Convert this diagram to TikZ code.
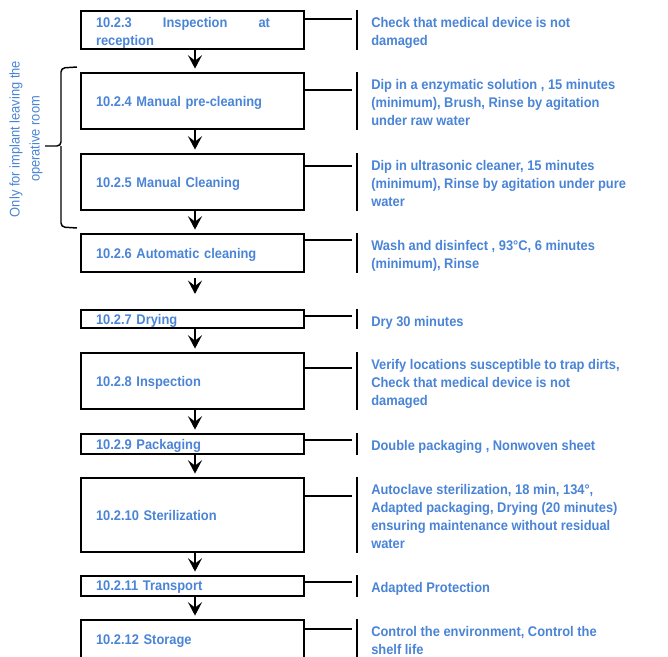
\documentclass[tikz,border=0pt]{standalone}
\usepackage{fontspec}
\setmainfont{Liberation Sans}[FakeStretch=0.92]
\usetikzlibrary{arrows.meta}
\definecolor{stepblue}{RGB}{74,132,214}
\begin{document}
\begin{tikzpicture}[x=0.75pt, y=-0.75pt, every node/.style={text=stepblue, font=\fontsize{10.5}{13.5}\selectfont\bfseries}]
        \tikzstyle{stepbox} = [draw=black, line width=1.6pt, rectangle, text width=144.75pt, inner xsep=11.25pt, inner ysep=0pt, text depth=0pt, align=left]
        \tikzstyle{desc} = [anchor=north west, inner sep=0pt, align=left]
        \tikzstyle{flow} = [-{Stealth[length=10pt, width=10.5pt, inset=4pt]}, line width=1.5pt, shorten >=2.5pt]
        \tikzstyle{link} = [line width=1.2pt]
        \tikzstyle{bar} = [line width=1.5pt]
        \useasboundingbox (0,0) rectangle (668,657);
        % process steps
        \node[stepbox, minimum height=28.5pt, text depth=11.25pt] (insp) at (192.5,30) {\hbox to 130.5pt{10.2.3\hfill Inspection\hfill at}\\reception};
        \node[stepbox, minimum height=42pt] (prec) at (192.5,101) {10.2.4 Manual pre-cleaning};
        \node[stepbox, minimum height=42pt] (manc) at (192.5,182) {10.2.5 Manual Cleaning};
        \node[stepbox, minimum height=28.5pt] (auto) at (192.5,253) {10.2.6 Automatic cleaning};
        \node[stepbox, minimum height=13.5pt] (dry) at (192.5,319) {10.2.7 Drying};
        \node[stepbox, minimum height=42pt] (chk) at (192.5,381) {10.2.8 Inspection};
        \node[stepbox, minimum height=15pt] (pack) at (192.5,444) {10.2.9 Packaging};
        \node[stepbox, minimum height=55.5pt] (ster) at (192.5,515) {10.2.10 Sterilization};
        \node[stepbox, minimum height=15pt] (trans) at (192.5,586) {10.2.11 Transport};
        \node[stepbox, minimum height=30pt] (stor) at (192.5,640) {10.2.12 Storage};
        % descriptions
        \node[desc] (dinsp) at (371,17.5) {Check that medical device is not\\damaged};
        \node[desc] (dprec) at (371,79.5) {Dip in a enzymatic solution , 15 minutes\\(minimum), Brush, Rinse by agitation\\under raw water};
        \node[desc] (dmanc) at (371,160.5) {Dip in ultrasonic cleaner, 15 minutes\\(minimum), Rinse by agitation under pure\\water};
        \node[desc] (dauto) at (371,240.5) {Wash and disinfect , 93°C, 6 minutes\\(minimum), Rinse};
        \node[desc] (ddry) at (371,316.5) {Dry 30 minutes};
        \node[desc] (dchk) at (371,359.5) {Verify locations susceptible to trap dirts,\\Check that medical device is not\\damaged};
        \node[desc] (dpack) at (371,440.5) {Double packaging , Nonwoven sheet};
        \node[desc] (dster) at (371,484.5) {Autoclave sterilization, 18 min, 134°,\\Adapted packaging, Drying (20 minutes)\\ensuring maintenance without residual\\water};
        \node[desc] (dtrans) at (371,582.5) {Adapted Protection};
        \node[desc] (dstor) at (371,626.5) {Control the environment, Control the\\shelf life};
        % side note
        \node[rotate=90, align=center, font=\fontsize{10.5}{15}\selectfont] (only) at (26,139) {Only for implant leaving the\\operative room};
        \draw[line width=1.1pt, rounded corners=3pt] (77,67) -- (61,68) -- (61,146) -- (45,146);
        \draw[line width=1.1pt, rounded corners=3pt] (77,228) -- (61,227) -- (61,146);
        % arrows
        \coordinate (arrx) at (195,0);
        \coordinate (linkx) at (352,0);
        \coordinate (barx) at (357,0);
        \foreach \a/\b in {insp/prec, prec/manc, manc/auto, dry/chk, chk/pack, pack/ster, ster/trans, trans/stor}
          \draw[flow] (\a.south -| arrx) -- (\b.north -| arrx);
        \draw[flow, shorten <=3.75pt, shorten >=11.25pt] (auto.south -| arrx) -- (dry.north -| arrx);
        % connectors to descriptions
        \foreach \b/\y in {insp/19, prec/90, manc/166, auto/240, dry/316, chk/368, pack/440, ster/496, trans/582, stor/629} {
          \draw[link] (\b.east |- 0,\y) -- (linkx |- 0,\y);
          \draw[bar] (\b.north -| barx) -- (\b.south -| barx);
        }
      \end{tikzpicture}
\end{document}
